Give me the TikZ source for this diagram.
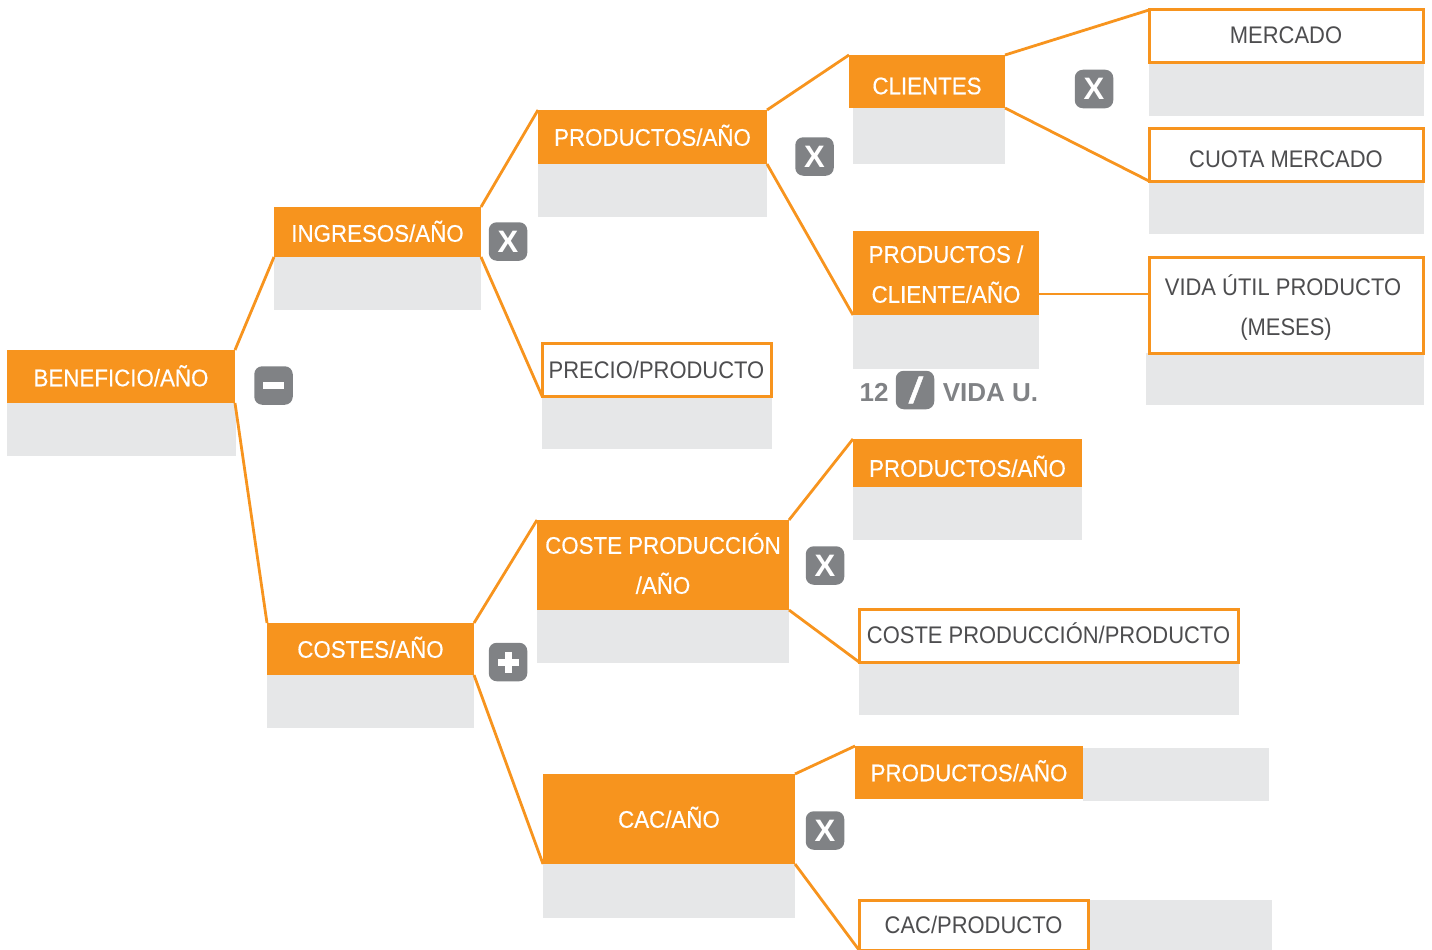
\documentclass[tikz,border=0pt]{standalone}
\usepackage{fontspec}
\setmainfont[FakeStretch=0.915]{Liberation Sans}
\newfontfamily\medfont[FakeStretch=0.93,FakeBold=0.35]{Liberation Sans}
\newfontfamily\badgefont{Liberation Sans}
\newfontfamily\slashfont[FakeBold=1.5]{Liberation Sans}
\definecolor{orangeB}{HTML}{F7941E}
\definecolor{grayB}{HTML}{E6E7E8}
\definecolor{badgeB}{HTML}{808285}
\definecolor{inkB}{HTML}{4D4D4F}
\newcommand\capstrut{\rule[-6.25pt]{0pt}{30pt}}
\newcommand\tl[2][0]{\capstrut\smash{\raisebox{-#1pt}{#2}}}
\newcommand\bx[6]{\node[#1,minimum width={(#5-#3)*1pt},minimum height={(#6-#4)*1pt}] (#2) at (#3,#4) {};}
\newcommand\tx[7]{\node[#1,minimum width={(#5-#3)*1pt},minimum height={(#6-#4)*1pt}] (#2) at (#3,#4) {#7};}
\tikzset{
  boxbase/.style={anchor=north west,inner sep=0pt,outer sep=0pt,align=center,font=\fontsize{24}{40}\selectfont},
  grayb/.style={boxbase,fill=grayB},
  orangeb/.style={boxbase,fill=orangeB,text=white,font=\medfont\fontsize{24}{40}\selectfont},
  whiteb/.style={boxbase,fill=white,draw=orangeB,line width=3pt,text=inkB},
  conn/.style={draw=orangeB,line width=2.8pt},
  badge/.style={fill=badgeB,rounded corners=8pt,minimum width=38.5pt,minimum height=38.5pt,inner sep=0pt,outer sep=0pt,text=white,font=\badgefont\fontsize{31}{31}\selectfont\bfseries},
  numtext/.style={inner sep=0pt,outer sep=0pt,text=badgeB,font=\badgefont\fontsize{26}{26}\selectfont\bfseries}
}
\begin{document}
\begin{tikzpicture}[x=1pt,y=-1pt]
\useasboundingbox (0,0) rectangle (1432,950);
\clip (0,0) rectangle (1432,950);
% gray panels
\bx{grayb}{gben}{7}{403}{236}{456}
\bx{grayb}{ging}{274}{257}{481}{310}
\bx{grayb}{gcos}{267}{675}{474}{728}
\bx{grayb}{gpro}{538}{164}{767}{217}
\bx{grayb}{gpre}{542}{396}{772}{449}
\bx{grayb}{gcli}{853}{108}{1005}{164}
\bx{grayb}{gmer}{1149}{63}{1424}{116}
\bx{grayb}{gcuo}{1149}{181}{1424}{234}
\bx{grayb}{gpc}{853}{315}{1039}{369}
\bx{grayb}{gvid}{1146}{353}{1424}{405}
\bx{grayb}{gcp}{537}{610}{789}{663}
\bx{grayb}{gpa}{853}{487}{1082}{540}
\bx{grayb}{gcpp}{859}{662}{1239}{715}
\bx{grayb}{gcac}{543}{864}{795}{918}
\bx{grayb}{gpb}{1083}{748}{1269}{801}
\bx{grayb}{gcacp}{1088}{900}{1272}{952}
% title boxes
\tx{orangeb}{ben}{7}{350}{235}{403}{\tl[1]{BENEFICIO/AÑO}}
\tx{orangeb}{ing}{274}{207}{481}{257}{\tl[1]{INGRESOS/AÑO}}
\tx{orangeb}{cos}{267}{623}{474}{675}{\tl{COSTES/AÑO}}
\tx{orangeb}{pro}{538}{110}{767}{164}{\tl{PRODUCTOS/AÑO}}
\tx{whiteb}{pre}{542}{343}{771}{396}{\tl{PRECIO/PRODUCTO}}
\tx{orangeb}{cli}{849}{55}{1005}{108}{\tl[4]{CLIENTES}}
\tx{whiteb}{mer}{1149}{10}{1423}{63}{\tl[-2]{MERCADO}}
\tx{whiteb}{cuo}{1149}{128}{1423}{181}{\tl[4]{CUOTA MERCADO}}
\tx{orangeb}{pc}{853}{231}{1039}{315}{\tl[1]{PRODUCTOS /}\\\tl[1]{CLIENTE/AÑO}}
\tx{whiteb}{vid}{1149}{257}{1423}{353}{\tl[2]{VIDA ÚTIL PRODUCTO\kern6pt}\\\tl[2]{(MESES)}}
\tx{orangeb}{cp}{537}{520}{789}{610}{\tl{COSTE PRODUCCIÓN}\\\tl{/AÑO}}
\tx{orangeb}{pa}{853}{439}{1082}{487}{\tl[5]{PRODUCTOS/AÑO}}
\tx{whiteb}{cpp}{859}{609}{1238}{662}{\tl[-1]{COSTE PRODUCCIÓN/PRODUCTO}}
\tx{orangeb}{cac}{543}{774}{795}{864}{\tl{CAC/AÑO}}
\tx{orangeb}{pb}{855}{746}{1083}{799}{\tl{PRODUCTOS/AÑO}}
\tx{whiteb}{cacp}{859}{900}{1088}{950}{\tl{CAC/PRODUCTO}}
% connectors
\coordinate (pcr) at (1039,294);
\coordinate (vidl) at (1149,294);
\draw[conn] (ben.north east) -- (ing.south west);
\draw[conn] (ben.south east) -- (cos.north west);
\draw[conn] (ing.north east) -- (pro.north west);
\draw[conn] (ing.south east) -- (pre.south west);
\draw[conn] (pro.north east) -- (cli.north west);
\draw[conn] (pro.south east) -- (pc.south west);
\draw[conn] (cli.north east) -- (mer.north west);
\draw[conn] (cli.south east) -- (cuo.south west);
\draw[conn] (pcr) -- (vidl);
\draw[conn] (cos.north east) -- (cp.north west);
\draw[conn] (cos.south east) -- (cac.south west);
\draw[conn] (cp.north east) -- (pa.north west);
\draw[conn] (cp.south east) -- (cpp.south west);
\draw[conn] (cac.north east) -- (pb.north west);
\draw[conn] (cac.south east) -- (cacp.south west);
% operator badges
\node[badge] (opminus) at (273.5,385.5) {\rule{21pt}{7pt}};
\node[badge] (opx1) at (508,241.5) {X};
\node[badge] (opx2) at (814.5,156.5) {X};
\node[badge] (opx3) at (1094,89) {X};
\node[badge] (opx4) at (825,565.5) {X};
\node[badge] (opplus) at (508,662) {\rule[6pt]{21pt}{7pt}\kern-14pt\rule[-1pt]{7pt}{21pt}\kern7pt};
\node[badge] (opx5) at (825,830.5) {X};
\node[badge,font=\slashfont\fontsize{36}{36}\selectfont\bfseries\itshape] (opdiv) at (915,390) {/};
\node[numtext] (twelve) at (874,392) {12};
\node[numtext] (vidau) at (990.5,393) {VIDA U.};
\end{tikzpicture}
\end{document}
